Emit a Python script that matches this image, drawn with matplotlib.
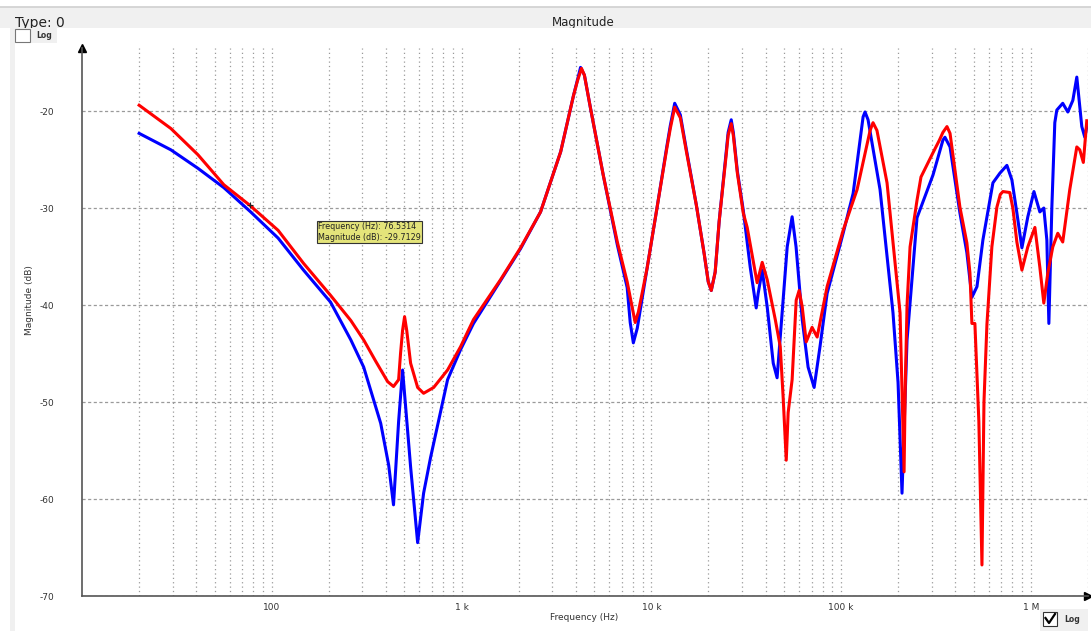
import matplotlib.pyplot as plt
import numpy as np
from matplotlib.patches import Rectangle
from matplotlib.lines import Line2D
from matplotlib.ticker import FixedLocator, LogLocator, NullFormatter
from matplotlib.transforms import Bbox, TransformedBbox

# measured magnitude responses (Hz, dB)
freq_red = [20, 29.4, 40.8, 55.9, 76.5314, 108, 147, 204, 261, 305, 353, 408,
            438, 466, 477, 489, 501, 514, 539, 587, 631, 713, 844, 988, 1156,
            1603, 2045, 2608, 3329, 3890, 4080, 4285, 4440, 4780, 5580, 6620,
            7460, 7940, 8220, 8550, 9500, 10710, 12080, 12590, 13280, 14220,
            15310, 17270, 19020, 19950, 20700, 21700, 22770, 24810, 25400,
            26370, 27040, 28400, 30500, 32000, 36100, 38400, 40800, 45000,
            47800, 49500, 51400, 52600, 55200, 58000, 60100, 62400, 65500,
            70300, 74800, 84400, 102500, 121400, 142200, 147300, 154500,
            174600, 204500, 214700, 218000, 222600, 230900, 251200, 263600,
            304900, 329600, 344000, 361300, 375000, 422700, 460000, 477500,
            488900, 507000, 532000, 552400, 566000, 586700, 623000, 662300,
            690000, 712300, 774300, 803600, 843700, 897100, 963700, 1.05e6,
            1.115e6, 1.17e6, 1.228e6, 1.305e6, 1.386e6, 1.472e6, 1.603e6,
            1.746e6, 1.81e6, 1.89e6, 1.971e6]
mag_red = [-19.4, -21.8, -24.5, -27.6, -29.7129, -32.3, -35.7, -39.0, -41.6,
           -43.6, -45.8, -47.9, -48.4, -47.7, -45.0, -42.6, -41.2, -42.6,
           -46.0, -48.5, -49.1, -48.5, -46.7, -44.3, -41.5, -37.4, -34.1,
           -30.4, -24.2, -18.4, -16.9, -15.6, -16.3, -19.7, -26.6, -33.5,
           -37.6, -40.3, -41.8, -40.7, -36.2, -30.0, -23.8, -21.8, -19.6,
           -20.7, -24.2, -29.7, -34.8, -37.6, -38.5, -36.6, -31.4, -24.5,
           -22.5, -21.3, -22.5, -26.4, -30.5, -32.0, -37.7, -35.6, -37.4,
           -41.5, -44.3, -49.5, -56.0, -51.1, -47.7, -39.5, -38.5, -40.2,
           -43.8, -42.3, -43.3, -38.1, -32.3, -28.1, -22.0, -21.2, -22.0,
           -27.4, -40.8, -57.2, -48.0, -40.0, -34.0, -29.2, -26.8, -24.3,
           -23.0, -22.2, -21.6, -22.3, -29.9, -33.6, -36.7, -41.9, -41.9,
           -52.0, -66.8, -50.0, -42.0, -34.0, -29.9, -28.6, -28.3, -28.4,
           -30.0, -33.5, -36.4, -34.0, -32.0, -36.1, -39.8, -36.7, -34.0,
           -32.6, -33.5, -28.1, -23.7, -24.0, -25.3, -21.0]

freq_blue = [20, 29.4, 40.8, 55.9, 77.4, 108, 147, 204, 261, 305, 375, 413,
             438, 466, 489, 539, 587, 631, 687, 844, 988, 1156, 1603, 2045,
             2608, 3329, 3890, 4080, 4237, 4440, 4780, 5580, 6620, 7460, 7740,
             8040, 8430, 9500, 10710, 12080, 12590, 13280, 14220, 15310, 17270,
             19020, 19950, 20700, 21700, 22770, 24810, 25400, 26370, 27040,
             28400, 30500, 33200, 35700, 36560, 38400, 40800, 43900, 46000,
             48900, 52000, 55200, 57900, 62400, 67000, 72100, 77400, 84400,
             102500, 115700, 130600, 133700, 138700, 160400, 187700, 199600,
             209400, 217000, 222600, 251200, 304900, 344000, 352500, 375000,
             422700, 460000, 488900, 520000, 558700, 631000, 687000, 747600,
             794300, 843700, 897100, 963700, 1.038e6, 1.115e6, 1.17e6,
             1.214e6, 1.244e6, 1.29e6, 1.337e6, 1.37e6, 1.472e6, 1.566e6,
             1.664e6, 1.746e6, 1.855e6, 1.924e6, 1.971e6]
mag_blue = [-22.3, -24.0, -25.9, -27.9, -30.4, -33.1, -36.4, -39.7, -43.6,
            -46.4, -52.2, -56.5, -60.6, -52.0, -46.7, -56.7, -64.5, -59.4,
            -55.7, -47.7, -44.6, -41.9, -37.5, -34.2, -30.4, -24.2, -18.4,
            -16.8, -15.5, -16.3, -19.7, -26.6, -33.8, -38.2, -41.8, -43.9,
            -42.4, -36.2, -30.0, -23.6, -21.5, -19.2, -20.4, -24.0, -29.7,
            -34.8, -37.6, -38.5, -36.6, -31.4, -24.2, -22.2, -20.9, -22.2,
            -26.2, -30.2, -36.1, -40.3, -38.8, -36.4, -40.2, -46.0, -47.5,
            -40.8, -34.0, -30.9, -34.0, -41.5, -46.4, -48.5, -44.3, -38.8,
            -32.6, -28.5, -20.6, -20.1, -20.9, -28.1, -40.8, -48.0, -59.4,
            -50.0, -43.6, -31.0, -26.6, -23.0, -22.7, -23.7, -30.5, -34.6,
            -39.2, -38.1, -33.3, -27.4, -26.4, -25.6, -27.1, -30.5, -34.1,
            -30.9, -28.3, -30.4, -30.0, -33.3, -41.9, -29.9, -21.2, -19.9,
            -19.2, -20.1, -18.9, -16.5, -21.6, -22.7, -21.6]

y_ticks = [-20, -30, -40, -50, -60, -70]
x_ticks = [100, 1e3, 1e4, 1e5, 1e6]
x_tick_labels = ['100', '1 k', '10 k', '100 k', '1 M']
cursor_freq = 76.5314
cursor_mag = -29.7129

W, H = 1091, 631
fig = plt.figure(figsize=(W / 100, H / 100), dpi=100)


def fx(px):
    return px / W


def fy(py):
    return 1 - py / H


def add_rect(x0, y0, x1, y1, **kw):
    fig.patches.append(Rectangle((fx(x0), fy(y1)), fx(x1 - x0), (y1 - y0) / H,
                                 transform=fig.transFigure, **kw))


# window chrome
add_rect(0, 7, W, 28, facecolor='#f0f0f0', edgecolor='none')
fig.add_artist(Line2D([0, 1], [fy(7), fy(7)], color='#d0d0d0', lw=1.2))
add_rect(10, 28, 15, H, facecolor='#f0f0f0', edgecolor='none')
add_rect(12, 28, 57, 43, facecolor='#f0f0f0', edgecolor='none')
add_rect(15, 29, 30, 42, facecolor='white', edgecolor='#777', lw=0.8)
fig.text(fx(36), fy(36), 'Log', fontsize=5.5, fontweight='bold', va='center',
         color='#333')

add_rect(1040, 609, 1088, 631, facecolor='#f0f0f0', edgecolor='none')
add_rect(1043, 612, 1057, 626, facecolor='white', edgecolor='#333', lw=0.8)
fig.add_artist(Line2D([fx(1045.5), fx(1049), fx(1055)],
                      [fy(618), fy(623), fy(614)], color='black', lw=1.6))
fig.text(fx(1064), fy(620), 'Log', fontsize=5.5, fontweight='bold',
         va='center', color='#333')

band = TransformedBbox(Bbox([[0, fy(28)], [1, fy(7)]]), fig.transFigure)
t1 = fig.text(fx(15), fy(27), 'Type: 0', fontsize=10, va='baseline',
              color='#222')
t2 = fig.text(fx(583), fy(26), 'Magnitude', fontsize=8.5, va='baseline',
              ha='center', color='#222')
for t in (t1, t2):
    t.set_clip_box(band)
    t.set_clip_on(True)

ax = fig.add_axes([fx(82), fy(596), fx(1088 - 82), (596 - 48) / H])
ax.set_xscale('log')
ax.set_xlim(10, 2e6)
ax.set_ylim(-70, -13.5)

ax.plot(freq_blue, mag_blue, color='#0000ff', lw=2.2, solid_joinstyle='round')
ax.plot(freq_red, mag_red, color='#ff0000', lw=2.2, solid_joinstyle='round')
ax.plot([cursor_freq], [cursor_mag], marker='+', color='#222', ms=5, mew=0.8)

ax.xaxis.set_major_locator(FixedLocator(x_ticks))
ax.xaxis.set_minor_locator(LogLocator(base=10, subs=np.arange(2, 10),
                                      numticks=100))
ax.xaxis.set_minor_formatter(NullFormatter())
ax.set_xticklabels(x_tick_labels)
ax.set_yticks(y_ticks)
ax.set_yticklabels([str(v) for v in y_ticks])
ax.tick_params(which='both', length=0, labelsize=6.5, labelcolor='#333')
ax.tick_params(axis='y', pad=20)
ax.tick_params(axis='x', pad=5)

ax.grid(axis='x', which='both', ls=(0, (1, 2.5)), color='#9a9a9a', lw=0.9)
ax.grid(axis='y', which='major', ls=(0, (2.5, 2)), color='#9a9a9a', lw=0.9)
ax.set_axisbelow(True)

for side in ('top', 'right'):
    ax.spines[side].set_visible(False)
for side in ('left', 'bottom'):
    ax.spines[side].set_color('#555')
    ax.spines[side].set_linewidth(1.2)
ax.plot([0], [1], marker='^', color='black', ms=6, transform=ax.transAxes,
        clip_on=False)
ax.plot([1], [0], marker='>', color='black', ms=6, transform=ax.transAxes,
        clip_on=False)

fig.text(fx(30), fy(300), 'Magnitude (dB)', rotation=90, fontsize=6.5,
         ha='center', va='center', color='#333')
fig.text(fx(584), fy(617), 'Frequency (Hz)', fontsize=6.5, ha='center',
         va='center', color='#333')

fig.text(fx(318), fy(232), 'Frequency (Hz): 76.5314\nMagnitude (dB): -29.7129',
         fontsize=5.8, va='center', ha='left', color='#222', linespacing=1.15,
         bbox=dict(boxstyle='square,pad=0.15', facecolor='#e4e47a',
                   edgecolor='#333', lw=0.8))

fig.savefig('out.png', dpi=100)
